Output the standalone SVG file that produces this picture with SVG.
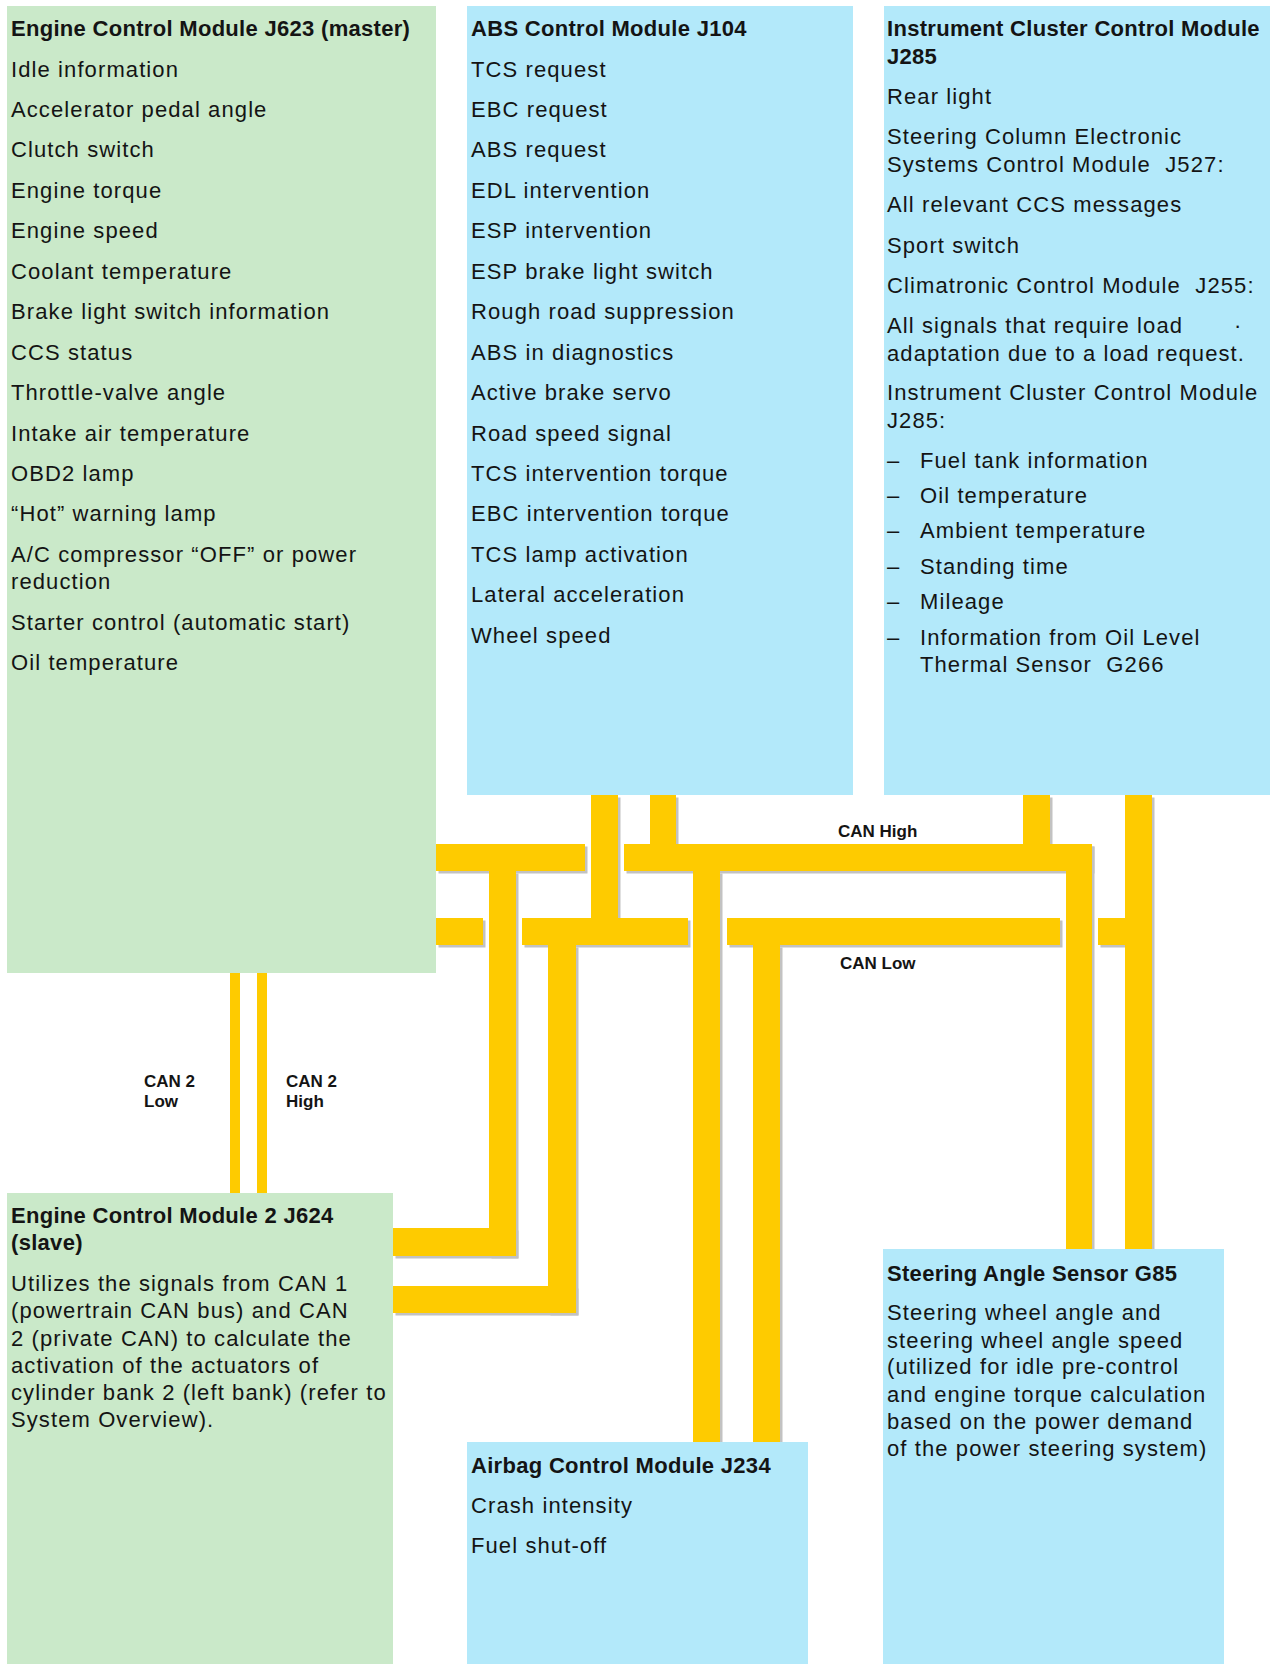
<svg xmlns="http://www.w3.org/2000/svg" width="1276" height="1664" viewBox="0 0 1276 1664">
<style>
.green{fill:#CAE9C9}
.blue{fill:#B3E9FA}
.bus{fill:#FECB00}
.sh{fill:#C2C2C2}
.t{font-family:"Liberation Sans",Arial,sans-serif;font-size:22px;fill:#141414;letter-spacing:1.1px}
.b{font-weight:bold;letter-spacing:0.3px}
.lbl{font-family:"Liberation Sans",Arial,sans-serif;font-weight:bold;font-size:17px;fill:#141414}
</style>
<rect x="0" y="0" width="1276" height="1664" fill="#ffffff"/>

<g id="connectors">
  <g id="shadows" class="sh" transform="translate(2.5,2.5)">
    <rect x="436" y="844" width="149" height="27"/>
    <rect x="624" y="844" width="468" height="27"/>
    <rect x="1066" y="844" width="26" height="405"/>
    <rect x="650" y="795" width="26" height="49"/>
    <rect x="1023" y="795" width="27" height="49"/>
    <rect x="489" y="871" width="27" height="385"/>
    <rect x="393" y="1228" width="123" height="28"/>
    <rect x="693" y="871" width="27" height="571"/>
    <rect x="436" y="918" width="47" height="27"/>
    <rect x="522" y="918" width="166" height="27"/>
    <rect x="727" y="918" width="333" height="27"/>
    <rect x="1098" y="918" width="27" height="27"/>
    <rect x="591" y="795" width="27" height="123"/>
    <rect x="1125" y="795" width="27" height="454"/>
    <rect x="548" y="945" width="28" height="368"/>
    <rect x="393" y="1286" width="183" height="27"/>
    <rect x="753" y="945" width="27" height="497"/>
  </g>
  <g id="can-high" class="bus">
    <rect x="436" y="844" width="149" height="27"/>
    <rect x="624" y="844" width="468" height="27"/>
    <rect x="1066" y="844" width="26" height="405"/>
    <rect x="650" y="795" width="26" height="49"/>
    <rect x="1023" y="795" width="27" height="49"/>
    <rect x="489" y="871" width="27" height="385"/>
    <rect x="393" y="1228" width="123" height="28"/>
    <rect x="693" y="871" width="27" height="571"/>
  </g>
  <g id="can-low" class="bus">
    <rect x="436" y="918" width="47" height="27"/>
    <rect x="522" y="918" width="166" height="27"/>
    <rect x="727" y="918" width="333" height="27"/>
    <rect x="1098" y="918" width="27" height="27"/>
    <rect x="591" y="795" width="27" height="123"/>
    <rect x="1125" y="795" width="27" height="454"/>
    <rect x="548" y="945" width="28" height="368"/>
    <rect x="393" y="1286" width="183" height="27"/>
    <rect x="753" y="945" width="27" height="497"/>
  </g>
  <g id="can2" class="bus">
    <rect x="230" y="973" width="10" height="220"/>
    <rect x="257" y="973" width="10" height="220"/>
  </g>
  <text class="lbl" x="838" y="837">CAN High</text>
  <text class="lbl" x="840" y="969">CAN Low</text>
  <text class="lbl" x="144" y="1087">CAN 2</text>
  <text class="lbl" x="144" y="1107">Low</text>
  <text class="lbl" x="286" y="1087">CAN 2</text>
  <text class="lbl" x="286" y="1107">High</text>
</g>

<g id="j623">
  <rect class="green" x="7" y="6" width="429" height="967"/>
  <text class="t b" x="11" y="36">Engine Control Module J623 (master)</text>
  <text class="t" x="11" y="76.5">Idle information</text>
  <text class="t" x="11" y="117">Accelerator pedal angle</text>
  <text class="t" x="11" y="157.4">Clutch switch</text>
  <text class="t" x="11" y="197.8">Engine torque</text>
  <text class="t" x="11" y="238.3">Engine speed</text>
  <text class="t" x="11" y="278.7">Coolant temperature</text>
  <text class="t" x="11" y="319.2">Brake light switch information</text>
  <text class="t" x="11" y="359.6">CCS status</text>
  <text class="t" x="11" y="400">Throttle-valve angle</text>
  <text class="t" x="11" y="440.5">Intake air temperature</text>
  <text class="t" x="11" y="481">OBD2 lamp</text>
  <text class="t" x="11" y="521.4">“Hot” warning lamp</text>
  <text class="t" x="11" y="561.9">A/C compressor “OFF” or power</text>
  <text class="t" x="11" y="588.5">reduction</text>
  <text class="t" x="11" y="629.6">Starter control (automatic start)</text>
  <text class="t" x="11" y="670">Oil temperature</text>
</g>

<g id="j104">
  <rect class="blue" x="467" y="6" width="386" height="789"/>
  <text class="t b" x="471" y="36">ABS Control Module J104</text>
  <text class="t" x="471" y="76.5">TCS request</text>
  <text class="t" x="471" y="117">EBC request</text>
  <text class="t" x="471" y="157.4">ABS request</text>
  <text class="t" x="471" y="197.8">EDL intervention</text>
  <text class="t" x="471" y="238.3">ESP intervention</text>
  <text class="t" x="471" y="278.7">ESP brake light switch</text>
  <text class="t" x="471" y="319.2">Rough road suppression</text>
  <text class="t" x="471" y="359.6">ABS in diagnostics</text>
  <text class="t" x="471" y="400">Active brake servo</text>
  <text class="t" x="471" y="440.5">Road speed signal</text>
  <text class="t" x="471" y="481">TCS intervention torque</text>
  <text class="t" x="471" y="521.4">EBC intervention torque</text>
  <text class="t" x="471" y="561.9">TCS lamp activation</text>
  <text class="t" x="471" y="602.3">Lateral acceleration</text>
  <text class="t" x="471" y="642.8">Wheel speed</text>
</g>

<g id="j285">
  <rect class="blue" x="884" y="6" width="386" height="789"/>
  <text class="t b" x="887" y="36">Instrument Cluster Control Module</text>
  <text class="t b" x="887" y="63.8">J285</text>
  <text class="t" x="887" y="104">Rear light</text>
  <text class="t" x="887" y="144.4">Steering Column Electronic</text>
  <text class="t" x="887" y="172">Systems Control Module&#160; J527:</text>
  <text class="t" x="887" y="212.4">All relevant CCS messages</text>
  <text class="t" x="887" y="252.7">Sport switch</text>
  <text class="t" x="887" y="293">Climatronic Control Module&#160; J255:</text>
  <text class="t" x="887" y="333.4">All signals that require load</text>
  <text class="t" x="1234" y="333.4">·</text>
  <text class="t" x="887" y="361">adaptation due to a load request.</text>
  <text class="t" x="887" y="400.3">Instrument Cluster Control Module</text>
  <text class="t" x="887" y="428">J285:</text>
  <text class="t" x="887" y="468.2">–</text>
  <text class="t" x="920" y="468.2">Fuel tank information</text>
  <text class="t" x="887" y="503.3">–</text>
  <text class="t" x="920" y="503.3">Oil temperature</text>
  <text class="t" x="887" y="538.3">–</text>
  <text class="t" x="920" y="538.3">Ambient temperature</text>
  <text class="t" x="887" y="574.4">–</text>
  <text class="t" x="920" y="574.4">Standing time</text>
  <text class="t" x="887" y="609.4">–</text>
  <text class="t" x="920" y="609.4">Mileage</text>
  <text class="t" x="887" y="644.5">–</text>
  <text class="t" x="920" y="644.5">Information from Oil Level</text>
  <text class="t" x="920" y="672">Thermal Sensor&#160; G266</text>
</g>

<g id="j624">
  <rect class="green" x="7" y="1193" width="386" height="471"/>
  <text class="t b" x="11" y="1223">Engine Control Module 2 J624</text>
  <text class="t b" x="11" y="1250">(slave)</text>
  <text class="t" x="11" y="1290.5">Utilizes the signals from CAN 1</text>
  <text class="t" x="11" y="1318">(powertrain CAN bus) and CAN</text>
  <text class="t" x="11" y="1345.5">2 (private CAN) to calculate the</text>
  <text class="t" x="11" y="1373">activation of the actuators of</text>
  <text class="t" x="11" y="1400">cylinder bank 2 (left bank) (refer to</text>
  <text class="t" x="11" y="1427">System Overview).</text>
</g>

<g id="j234">
  <rect class="blue" x="467" y="1442" width="341" height="222"/>
  <text class="t b" x="471" y="1472.5">Airbag Control Module J234</text>
  <text class="t" x="471" y="1513">Crash intensity</text>
  <text class="t" x="471" y="1553">Fuel shut-off</text>
</g>

<g id="g85">
  <rect class="blue" x="883" y="1249" width="341" height="415"/>
  <text class="t b" x="887" y="1280.5">Steering Angle Sensor G85</text>
  <text class="t" x="887" y="1320">Steering wheel angle and</text>
  <text class="t" x="887" y="1347.5">steering wheel angle speed</text>
  <text class="t" x="887" y="1374">(utilized for idle pre-control</text>
  <text class="t" x="887" y="1402">and engine torque calculation</text>
  <text class="t" x="887" y="1428.5">based on the power demand</text>
  <text class="t" x="887" y="1456">of the power steering system)</text>
</g>
</svg>
